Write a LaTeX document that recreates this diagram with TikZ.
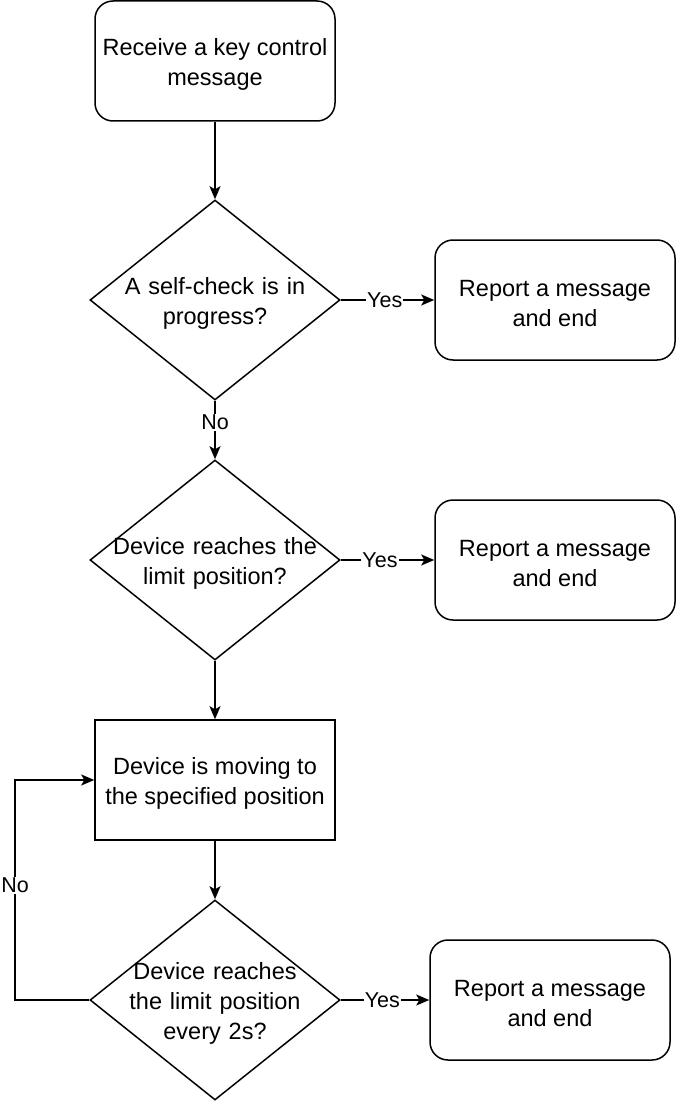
\documentclass[tikz,border=0pt]{standalone}
\usepackage{fontspec}
\setmainfont{Liberation Sans}
\usepackage{tikz}
\usetikzlibrary{arrows.meta,shapes.geometric}

\begin{document}
\begin{tikzpicture}[x=1pt,y=-1pt,
  txt/.style={font=\fontsize{23.5}{30}\selectfont},
  proc/.style={draw,line width=1.5pt,minimum width=240pt,minimum height=120pt,txt,align=center,inner sep=0pt,text height=53pt},
  rproc/.style={proc,rounded corners=18pt},
  decision/.style={draw,diamond,line width=1.5pt,minimum width=250pt,minimum height=200pt,inner sep=0pt},
  dtext/.style={txt,align=center,text width=240pt},
  arr/.style={-{Stealth[length=13pt,width=11pt,inset=3pt]},line width=1.5pt},
  lbl/.style={fill=white,inner sep=1pt,font=\fontsize{21.5}{24}\selectfont}]
  \useasboundingbox (0,0) rectangle (678,1102);
  \node[rproc] (start) at (215,61) {Receive a key control\\message};
  \node[decision] (selfchk) at (215,300) {};
  \node[dtext] (selfchkt) at ([yshift=-3pt]selfchk.center) {A self-check is in\\progress?};
  \node[rproc] (rep1) at (555,300) {Report a message\\and end};
  \node[decision] (limit) at (215,560) {};
  \node[dtext] (limitt) at ([yshift=-3pt]limit.center) {Device reaches the\\limit position?};
  \node[rproc] (rep2) at (555,560) {Report a message\\and end};
  \node[proc] (move) at (215,780) {Device is moving to\\the specified position};
  \node[decision] (every) at (215,1000) {};
  \node[dtext] (everyt) at ([yshift=-3pt]every.center) {Device reaches\\the limit position\\every 2s?};
  \node[rproc] (rep3) at (550,1000) {Report a message\\and end};
  \coordinate (loop) at (15,1000);
  % main flow
  \draw[arr] (start) -- (selfchk);
  \draw[arr] (selfchk) -- node[lbl,pos=0.37] {No} (limit);
  \draw[arr] (limit) -- (move);
  \draw[arr] (move) -- (every);
  % yes branches
  \draw[arr] (selfchk) -- node[lbl,pos=0.47] {Yes} (rep1);
  \draw[arr] (limit) -- node[lbl,pos=0.42] {Yes} (rep2);
  \draw[arr] (every) -- node[lbl,pos=0.47] {Yes} (rep3);
  % retry loop
  \draw[arr] (every.west) -- (loop) |- node[lbl,pos=0.26] {No} (move.west);
\end{tikzpicture}
\end{document}
